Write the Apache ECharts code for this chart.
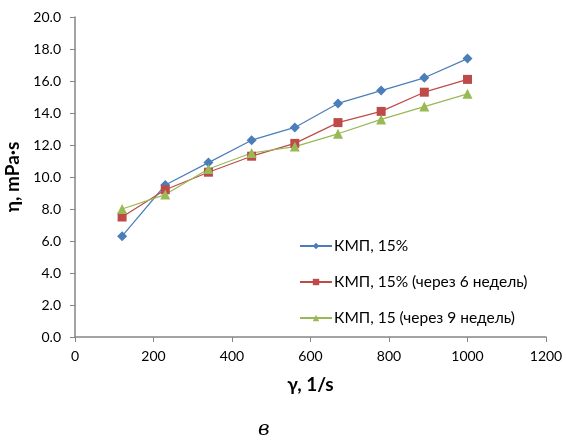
<!DOCTYPE html>
<html><head><meta charset="utf-8">
<script src="https://cdn.jsdelivr.net/npm/echarts@6/dist/echarts.min.js"></script>
<style>html,body{margin:0;padding:0;background:#fff}#c{width:566px;height:441px}</style>
</head><body><div id="c"></div>
<script>
var shearRates = [120, 230, 340, 450, 560, 670, 780, 890, 1000];
var kmp15 = [6.3, 9.5, 10.9, 12.3, 13.1, 14.6, 15.4, 16.2, 17.4];
var kmp15w6 = [7.5, 9.2, 10.3, 11.3, 12.1, 13.4, 14.1, 15.3, 16.1];
var kmp15w9 = [8.0, 8.9, 10.5, 11.5, 11.9, 12.7, 13.6, 14.4, 15.2];
var seriesNames = ['КМП, 15%', 'КМП, 15% (через 6 недель)', 'КМП, 15 (через 9 недель)'];
var yTickLabels = ['0.0', '2.0', '4.0', '6.0', '8.0', '10.0', '12.0', '14.0', '16.0', '18.0', '20.0'];
var xTickLabels = ['0', '200', '400', '600', '800', '1000', '1200'];
function pairs(v){ return shearRates.map(function(x,i){ return [x, v[i]]; }); }
var font = 'Lato, "Open Sans", sans-serif';
var chart = echarts.init(document.getElementById('c'));
chart.setOption({
  animation: false,
  grid: {left: 75, right: 20, top: 17, bottom: 104, containLabel: false, outerBoundsMode: 'none'},
  xAxis: {type: 'value', min: 0, max: 1200, interval: 200,
    name: 'γ, 1/s', nameLocation: 'middle', nameGap: 38,
    nameTextStyle: {fontFamily: font, fontWeight: 'bold', fontSize: 19, color: '#000'},
    axisLine: {lineStyle: {color: '#868686', width: 1.5}},
    axisTick: {show: true, length: 5, lineStyle: {color: '#868686'}},
    axisLabel: {fontFamily: font, fontSize: 14, color: '#000', margin: 12, hideOverlap: false,
      formatter: function(v){ return xTickLabels[Math.round(v / 200)]; }},
    splitLine: {show: false}},
  yAxis: {type: 'value', min: 0, max: 20, interval: 2,
    name: 'η, mPa·s', nameLocation: 'middle', nameGap: 48,
    nameTextStyle: {fontFamily: font, fontWeight: 'bold', fontSize: 19, color: '#000'},
    axisLine: {show: true, lineStyle: {color: '#868686', width: 1.5}},
    axisTick: {show: true, length: 5, lineStyle: {color: '#868686'}},
    axisLabel: {fontFamily: font, fontSize: 14, color: '#000', margin: 14, hideOverlap: false,
      formatter: function(v){ return yTickLabels[Math.round(v / 2)]; }},
    splitLine: {show: false}},
  legend: {orient: 'vertical', left: 294, top: 232, itemGap: 18, itemWidth: 32, itemHeight: 8,
    textStyle: {fontFamily: font, fontSize: 15.5, lineHeight: 18, color: '#000', padding: [0,0,0,-3]},
    data: seriesNames},
  graphic: [{type: 'text', left: 258, top: 420,
    style: {text: 'в', font: 'italic 20px "DejaVu Serif", serif', fill: '#000'}}],
  series: [
    {name: seriesNames[0], type: 'line', data: pairs(kmp15), symbol: 'diamond', symbolSize: 10,
     lineStyle: {color: '#4a7ebb', width: 1.2}, itemStyle: {color: '#4a7ebb'}},
    {name: seriesNames[1], type: 'line', data: pairs(kmp15w6), symbol: 'rect', symbolSize: 9,
     lineStyle: {color: '#be4b48', width: 1.2}, itemStyle: {color: '#be4b48'}},
    {name: seriesNames[2], type: 'line', data: pairs(kmp15w9), symbol: 'triangle', symbolSize: 10,
     lineStyle: {color: '#98b954', width: 1.2}, itemStyle: {color: '#98b954'}}
  ]
});
</script></body></html>
